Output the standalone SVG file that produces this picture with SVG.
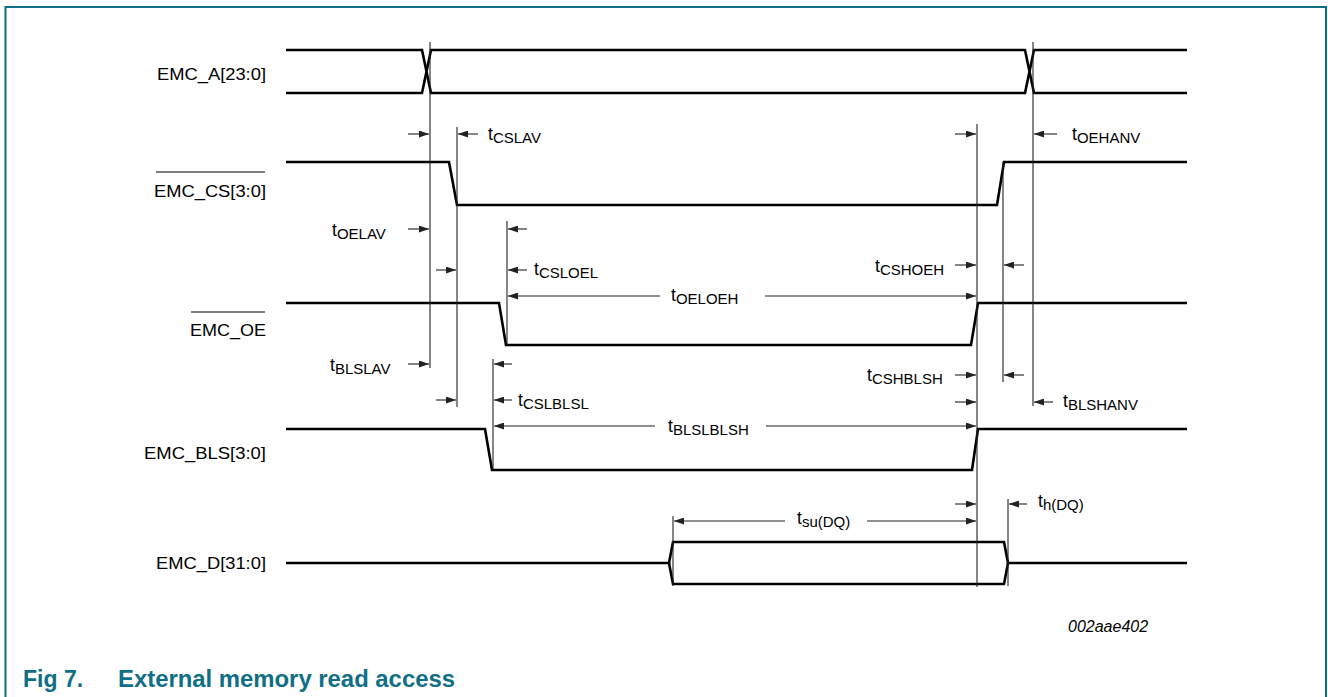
<svg xmlns="http://www.w3.org/2000/svg" width="1328" height="697" viewBox="0 0 1328 697">
<style>
.sig{fill:none;stroke:#000;stroke-width:2.6;stroke-linejoin:miter}
.ref{stroke:#222;stroke-width:1.1;fill:none}
.arr{stroke:#222;stroke-width:1.1;fill:none;marker-end:url(#ah)}
.ovl{stroke:#000;stroke-width:1.2}
.lbl{font-family:"Liberation Sans",Arial,sans-serif;font-size:17px;fill:#000;text-anchor:end}
.tm{font-family:"Liberation Sans",Arial,sans-serif;font-size:17.5px;fill:#000}
.sub{font-size:15px}
.cap{font-family:"Liberation Sans",Arial,sans-serif;font-size:23px;font-weight:bold;fill:#0f6f86}
.id{font-family:"Liberation Sans",Arial,sans-serif;font-size:16px;font-style:italic;fill:#000}
.frame{fill:none;stroke:#0f6f86;stroke-width:2}
</style>
<defs>
<marker id="ah" markerUnits="userSpaceOnUse" markerWidth="10" markerHeight="7" refX="10" refY="3.5" orient="auto">
<path d="M0,0 L10,3.5 L0,7 z" fill="#222"/>
</marker>
</defs>
<rect width="1328" height="697" fill="#fff"/>
<path class="frame" d="M5.5,697 V7 H1326 V697"/>

<g id="sig-a">
<text class="lbl" x="266" y="80" textLength="109" lengthAdjust="spacingAndGlyphs">EMC_A[23:0]</text>
<path class="sig" d="M286,50 H422 L431,93 H1025 L1034,50 H1187"/>
<path class="sig" d="M286,93 H422 L431,50 H1025 L1034,93 H1187"/>
</g>
<g id="sig-cs">
<line class="ovl" x1="156" y1="172" x2="265" y2="172"/>
<text class="lbl" x="266" y="197" textLength="112" lengthAdjust="spacingAndGlyphs">EMC_CS[3:0]</text>
<path class="sig" d="M286,162 H449 L457,205 H997 L1004,162 H1187"/>
</g>
<g id="sig-oe">
<line class="ovl" x1="191" y1="312" x2="265" y2="312"/>
<text class="lbl" x="266" y="336" textLength="76" lengthAdjust="spacingAndGlyphs">EMC_OE</text>
<path class="sig" d="M286,303 H499 L506,345 H971 L978,303 H1187"/>
</g>
<g id="sig-bls">
<text class="lbl" x="266" y="459" textLength="122" lengthAdjust="spacingAndGlyphs">EMC_BLS[3:0]</text>
<path class="sig" d="M286,429 H485 L492,470 H972 L978,429 H1187"/>
</g>
<g id="sig-d">
<text class="lbl" x="266" y="569" textLength="110" lengthAdjust="spacingAndGlyphs">EMC_D[31:0]</text>
<path class="sig" d="M286,563 H669 L673,542 H1004 L1008,563 H1187"/>
<path class="sig" d="M669,563 L673,584 H1004 L1008,563"/>
</g>

<g id="connectors">
<line class="ref" x1="430" y1="42" x2="430" y2="368"/>
<line class="ref" x1="457" y1="127" x2="457" y2="407"/>
<line class="ref" x1="507" y1="221" x2="507" y2="345"/>
<line class="ref" x1="493" y1="359" x2="493" y2="470"/>
<line class="ref" x1="673" y1="516" x2="673" y2="586"/>
<line class="ref" x1="977" y1="124" x2="977" y2="587"/>
<line class="ref" x1="1003" y1="162" x2="1003" y2="382"/>
<line class="ref" x1="1033" y1="42" x2="1033" y2="406"/>
<line class="ref" x1="1008" y1="499" x2="1008" y2="586"/>

<line class="arr" x1="408" y1="134" x2="429" y2="134"/>
<line class="arr" x1="478" y1="134" x2="458" y2="134"/>
<line class="arr" x1="955" y1="134" x2="976" y2="134"/>
<line class="arr" x1="1057" y1="134" x2="1034" y2="134"/>

<line class="arr" x1="408" y1="229" x2="429" y2="229"/>
<line class="arr" x1="527" y1="229" x2="508" y2="229"/>

<line class="arr" x1="436" y1="270" x2="456" y2="270"/>
<line class="arr" x1="527" y1="270" x2="508" y2="270"/>

<line class="arr" x1="955" y1="265" x2="976" y2="265"/>
<line class="arr" x1="1024" y1="265" x2="1004" y2="265"/>

<line class="arr" x1="660" y1="296" x2="508" y2="296"/>
<line class="arr" x1="765" y1="296" x2="976" y2="296"/>

<line class="arr" x1="408" y1="364" x2="429" y2="364"/>
<line class="arr" x1="512" y1="364" x2="494" y2="364"/>

<line class="arr" x1="955" y1="375" x2="976" y2="375"/>
<line class="arr" x1="1024" y1="375" x2="1004" y2="375"/>

<line class="arr" x1="436" y1="400" x2="456" y2="400"/>
<line class="arr" x1="512" y1="400" x2="494" y2="400"/>

<line class="arr" x1="955" y1="402" x2="976" y2="402"/>
<line class="arr" x1="1053" y1="402" x2="1034" y2="402"/>

<line class="arr" x1="655" y1="426" x2="494" y2="426"/>
<line class="arr" x1="766" y1="426" x2="976" y2="426"/>

<line class="arr" x1="955" y1="504" x2="976" y2="504"/>
<line class="arr" x1="1027" y1="504" x2="1009" y2="504"/>

<line class="arr" x1="785" y1="521" x2="674" y2="521"/>
<line class="arr" x1="867" y1="521" x2="976" y2="521"/>
</g>

<g id="labels">
<text class="tm" x="488" y="140">t<tspan class="sub" dy="3">CSLAV</tspan></text>
<text class="tm" x="1072" y="140">t<tspan class="sub" dy="3">OEHANV</tspan></text>
<text class="tm" x="332" y="236">t<tspan class="sub" dy="3">OELAV</tspan></text>
<text class="tm" x="534" y="275">t<tspan class="sub" dy="3">CSLOEL</tspan></text>
<text class="tm" x="671" y="301">t<tspan class="sub" dy="3">OELOEH</tspan></text>
<text class="tm" x="875" y="272">t<tspan class="sub" dy="3">CSHOEH</tspan></text>
<text class="tm" x="330" y="371">t<tspan class="sub" dy="3">BLSLAV</tspan></text>
<text class="tm" x="518" y="406">t<tspan class="sub" dy="3">CSLBLSL</tspan></text>
<text class="tm" x="867" y="381">t<tspan class="sub" dy="3">CSHBLSH</tspan></text>
<text class="tm" x="1063" y="407">t<tspan class="sub" dy="3">BLSHANV</tspan></text>
<text class="tm" x="668" y="432">t<tspan class="sub" dy="3">BLSLBLSH</tspan></text>
<text class="tm" x="797" y="524">t<tspan class="sub" dy="3">su(DQ)</tspan></text>
<text class="tm" x="1038" y="507">t<tspan class="sub" dy="3">h(DQ)</tspan></text>
</g>

<text class="id" x="1068" y="632">002aae402</text>
<text class="cap" x="23" y="687">Fig 7.</text>
<text class="cap" x="118" y="687" textLength="337" lengthAdjust="spacingAndGlyphs">External memory read access</text>
</svg>
